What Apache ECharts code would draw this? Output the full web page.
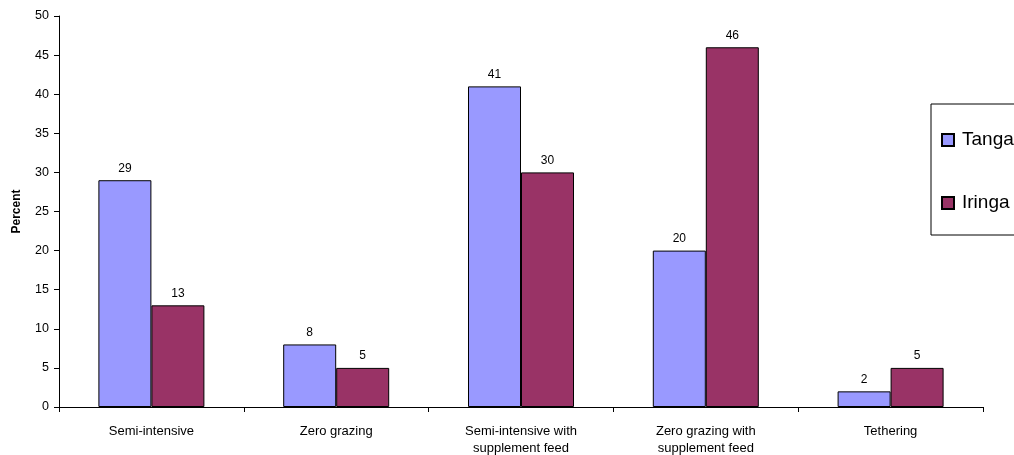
<!DOCTYPE html>
<html>
<head>
<meta charset="utf-8">
<script src="https://cdn.jsdelivr.net/npm/echarts@6/dist/echarts.min.js"></script>
<style>html,body{margin:0;padding:0;background:#fff;}#c{width:1014px;height:455px;}</style>
</head>
<body>
<div id="c"></div>
<script>
const categories = ['Semi-intensive', 'Zero grazing', 'Semi-intensive with\nsupplement feed', 'Zero grazing with\nsupplement feed', 'Tethering'];
const tanga = [29, 8, 41, 20, 2];
const iringa = [13, 5, 30, 46, 5];
const yTicks = { min: 0, max: 50, interval: 5 };

const chart = echarts.init(document.getElementById('c'), null, { renderer: 'canvas' });
const font = 'Liberation Sans, Arial, sans-serif';
const labelCfg = { show: true, position: 'top', distance: 6, fontSize: 12, color: '#000', fontFamily: font };
chart.setOption({
  animation: false,
  backgroundColor: '#fff',
  grid: { left: 59, right: 31, top: 16, bottom: 48, containLabel: false, outerBoundsMode: 'none' },
  legend: {
    orient: 'vertical',
    left: 931,
    top: 104,
    padding: [26, 60, 22, 10],
    itemGap: 43,
    itemWidth: 12,
    itemHeight: 12,
    borderColor: '#000',
    borderWidth: 1,
    borderRadius: 0,
    icon: 'rect',
    textStyle: { fontSize: 19, fontFamily: font, color: '#000', lineHeight: 20, padding: [0, 0, 0, 3] },
    data: ['Tanga', 'Iringa']
  },
  xAxis: {
    type: 'category',
    data: categories,
    axisLine: { lineStyle: { color: '#000', width: 1 } },
    axisTick: { show: true, length: 5, alignWithLabel: false, lineStyle: { color: '#000' } },
    axisLabel: { fontSize: 13, fontFamily: font, color: '#000', margin: 16, lineHeight: 17, interval: 0 },
    splitLine: { show: false }
  },
  yAxis: {
    type: 'value',
    min: yTicks.min, max: yTicks.max, interval: yTicks.interval,
    name: 'Percent',
    nameLocation: 'middle',
    nameGap: 36,
    nameRotate: 90,
    nameTextStyle: { fontSize: 12, fontWeight: 'bold', fontFamily: font, color: '#000' },
    axisLine: { show: true, lineStyle: { color: '#000', width: 1 } },
    axisTick: { show: true, length: 5, lineStyle: { color: '#000' } },
    axisLabel: { fontSize: 12.5, fontFamily: font, color: '#000', margin: 10 },
    splitLine: { show: false }
  },
  series: [
    {
      name: 'Tanga', type: 'bar', data: tanga, barWidth: 53, barGap: '0%',
      itemStyle: { color: '#9999FF', borderColor: '#000', borderWidth: 1 },
      label: labelCfg
    },
    {
      name: 'Iringa', type: 'bar', data: iringa, barWidth: 53, barGap: '0%',
      itemStyle: { color: '#993366', borderColor: '#000', borderWidth: 1 },
      label: labelCfg
    }
  ]
});
</script>
</body>
</html>
